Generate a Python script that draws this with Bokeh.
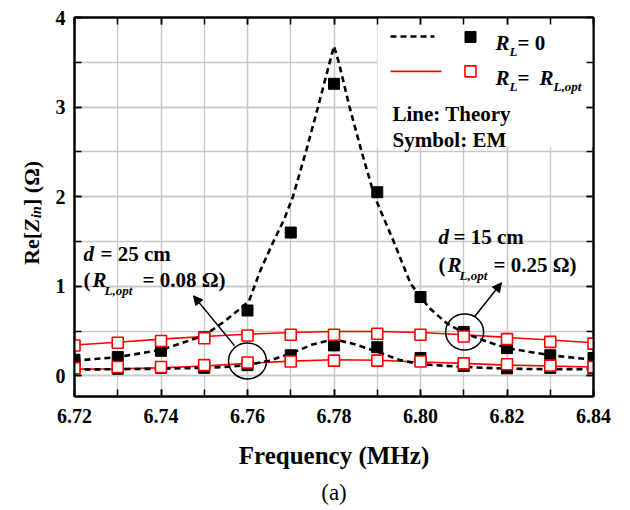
import math
from bokeh.plotting import figure
from bokeh.layouts import row
from bokeh.models import Range1d, Label, Arrow, NormalHead, LinearAxis, FixedTicker, Title
from bokeh.embed import file_html
from bokeh.resources import INLINE

# ---------------- data ----------------
freq_em = [6.72, 6.73, 6.74, 6.75, 6.76, 6.77, 6.78, 6.79, 6.80, 6.81, 6.82, 6.83, 6.84]
em_rl0_d15 = [0.18, 0.21, 0.28, 0.43, 0.73, 1.60, 3.26, 2.05, 0.88, 0.49, 0.31, 0.23, 0.20]
em_rl0_d25 = [0.09, 0.08, 0.09, 0.09, 0.12, 0.23, 0.34, 0.32, 0.20, 0.11, 0.085, 0.09, 0.085]
em_opt_d15 = [0.34, 0.37, 0.39, 0.42, 0.45, 0.46, 0.46, 0.47, 0.46, 0.44, 0.41, 0.38, 0.36]
em_opt_d25 = [0.085, 0.10, 0.10, 0.12, 0.15, 0.16, 0.17, 0.17, 0.16, 0.14, 0.13, 0.115, 0.10]

th15_freq = [6.72, 6.73, 6.74, 6.75, 6.755, 6.7603, 6.763, 6.766, 6.7685, 6.7705, 6.7735, 6.7763,
             6.779, 6.78, 6.7811, 6.7836, 6.7864, 6.7894, 6.7938, 6.7977, 6.802, 6.806, 6.81,
             6.8155, 6.82, 6.83, 6.84]
th15_rl0 = [0.17, 0.21, 0.29, 0.45, 0.62, 0.83, 1.18, 1.50, 1.75, 2.00, 2.50, 3.00,
            3.50, 3.68, 3.50, 3.00, 2.50, 2.00, 1.50, 1.03, 0.76, 0.59, 0.48,
            0.38, 0.31, 0.23, 0.18]
th25_freq = [6.72, 6.73, 6.74, 6.75, 6.755, 6.76, 6.765, 6.77, 6.775, 6.78, 6.785, 6.79, 6.795,
             6.80, 6.81, 6.82, 6.83, 6.84]
th25_rl0 = [0.07, 0.075, 0.08, 0.09, 0.10, 0.12, 0.17, 0.25, 0.35, 0.41, 0.35, 0.27, 0.18,
            0.13, 0.10, 0.08, 0.075, 0.075]
th_opt_d15 = [0.345, 0.375, 0.41, 0.44, 0.465, 0.485, 0.495, 0.495, 0.485, 0.46, 0.43, 0.40, 0.37]
th_opt_d25 = [0.075, 0.08, 0.09, 0.11, 0.14, 0.165, 0.18, 0.175, 0.155, 0.14, 0.12, 0.11, 0.10]

x_ticks = [6.72, 6.74, 6.76, 6.78, 6.80, 6.82, 6.84]
x_minor = [6.72, 6.73, 6.74, 6.75, 6.76, 6.77, 6.78, 6.79, 6.80, 6.81, 6.82, 6.83, 6.84]
y_ticks = [0, 1, 2, 3, 4]
y_minor = [0, 0.5, 1, 1.5, 2, 2.5, 3, 3.5, 4]

# annotation circles (centre freq, centre value)
circ_f = [6.76, 6.8102]
circ_v = [0.167, 0.49]

# ---------------- layout helpers ----------------
W, H = 630, 510
LW = 50                      # width of the strip that carries the y-axis title
X0, X1, Y0, Y1 = 6.72, 6.84, -0.23, 4.0
FL, FR, FT, FB = 74, 593, 17, 397   # frame edges in page pixels


def fx(px):
    return X0 + (px - FL) * (X1 - X0) / (FR - FL)


def fy(py):
    return Y1 - (py - FT) * (Y1 - Y0) / (FB - FT)


FONT = "Liberation Serif"

p = figure(width=W - LW, height=H, output_backend="svg", toolbar_location=None,
           x_range=Range1d(X0, X1), y_range=Range1d(Y0, Y1),
           min_border_left=FL - LW, min_border_right=W - FR,
           min_border_top=FT, min_border_bottom=H - FB)
p.background_fill_color = "white"
p.border_fill_color = "white"
p.outline_line_color = "black"
p.outline_line_width = 2


def style_axis(ax):
    ax.axis_line_width = 2
    ax.axis_line_color = "black"
    ax.major_tick_in = 7
    ax.major_tick_out = 0
    ax.minor_tick_in = 7
    ax.minor_tick_out = 0
    ax.major_tick_line_width = 1.5
    ax.minor_tick_line_width = 1.5
    ax.major_label_text_font = FONT
    ax.major_label_text_font_style = "bold"
    ax.major_label_text_font_size = "20px"
    ax.major_label_text_color = "black"


style_axis(p.xaxis[0])
style_axis(p.yaxis[0])
p.xaxis.ticker = FixedTicker(ticks=x_ticks, minor_ticks=x_minor)
p.yaxis.ticker = FixedTicker(ticks=y_ticks, minor_ticks=y_minor)
p.xaxis.major_label_overrides = {t: f"{t:.2f}" for t in x_ticks}
p.xaxis.major_label_standoff = 12
p.yaxis.major_label_standoff = 9

p.xaxis.axis_label = "Frequency (MHz)"
p.xaxis.axis_label_text_font = FONT
p.xaxis.axis_label_text_font_style = "bold"
p.xaxis.axis_label_text_font_size = "25px"
p.xaxis.axis_label_text_color = "black"
p.xaxis.axis_label_standoff = 16

# mirrored axes (ticks only)
top_ax = LinearAxis(ticker=FixedTicker(ticks=x_ticks, minor_ticks=x_minor))
right_ax = LinearAxis(ticker=FixedTicker(ticks=y_ticks, minor_ticks=y_minor))
for ax in (top_ax, right_ax):
    style_axis(ax)
    ax.major_label_standoff = 0
top_ax.major_label_overrides = {t: "" for t in x_ticks}
right_ax.major_label_overrides = {t: "" for t in y_ticks}
p.add_layout(top_ax, "above")
p.add_layout(right_ax, "right")

# "(a)" caption
p.add_layout(Title(text="(a)", align="center", text_font=FONT, text_font_size="23px",
                   text_font_style="normal", text_color="black", standoff=12), "below")

# grids
p.xgrid.ticker = p.xaxis[0].ticker
p.ygrid.ticker = p.yaxis[0].ticker
for g in (p.xgrid, p.ygrid):
    g.grid_line_color = "#c8c8c8"
    g.grid_line_width = 1.3
    g.minor_grid_line_color = "#c8c8c8"
    g.minor_grid_line_width = 1.3

# legend background
p.quad(left=fx(377), right=X1, bottom=fy(147), top=Y1, fill_color="white", line_color=None)

# theory lines
p.line(freq_em, th_opt_d15, line_color="red", line_width=1.6)
p.line(freq_em, th_opt_d25, line_color="red", line_width=1.6)
p.line(th15_freq, th15_rl0, line_color="black", line_width=2.6, line_dash="6 4")
p.line(th25_freq, th25_rl0, line_color="black", line_width=2.6, line_dash="6 4")

# EM symbols
p.scatter(freq_em, em_rl0_d15, marker="square", size=11, fill_color="black", line_color="black")
p.scatter(freq_em, em_rl0_d25, marker="square", size=11, fill_color="black", line_color="black")
p.scatter(freq_em, em_opt_d15, marker="square", size=11, fill_color="white", line_color="red", line_width=1.6)
p.scatter(freq_em, em_opt_d25, marker="square", size=11, fill_color="white", line_color="red", line_width=1.6)

# annotation circles and arrows
p.ellipse(x=circ_f, y=circ_v, width=38, height=36, width_units="screen", height_units="screen",
          fill_color=None, line_color="black", line_width=1.5)
p.add_layout(Arrow(end=NormalHead(size=9, fill_color="black", line_color="black"),
                   x_start=fx(234), y_start=fy(346), x_end=fx(193), y_end=fy(296),
                   line_width=1.5, line_color="black"))
p.add_layout(Arrow(end=NormalHead(size=9, fill_color="black", line_color="black"),
                   x_start=fx(474), y_start=fy(317), x_end=fx(501), y_end=fy(283),
                   line_width=1.5, line_color="black"))

# legend keys
p.line([fx(390), fx(434)], [fy(36), fy(36)], line_color="black", line_width=2.6, line_dash="6 4")
p.scatter([fx(470)], [fy(36.5)], marker="square", size=11, fill_color="black", line_color="black")
p.line([fx(390), fx(441)], [fy(71), fy(71)], line_color="red", line_width=1.6)
p.scatter([fx(470)], [fy(71)], marker="square", size=11, fill_color="white", line_color="red", line_width=1.6)


def lab(fig, x, y, text, size=21, style="bold", angle=0.0, align="left"):
    fig.add_layout(Label(x=x, y=y, text=text, text_font=FONT, text_font_size=f"{size}px",
                         text_font_style=style, text_align=align, text_baseline="alphabetic",
                         angle=angle, text_color="black"))


def plab(px, py, text, size=21, style="bold"):
    lab(p, fx(px), fy(py), text, size, style)


# legend texts
plab(495, 43, "R", 21, "bold italic")
plab(509, 51, "L", 13, "bold italic")
plab(517, 43, "= 0", 21)
plab(495, 78, "R", 21, "bold italic")
plab(509, 86, "L", 13, "bold italic")
plab(517, 78, "=", 21)
plab(539, 78, "R", 21, "bold italic")
plab(553, 86, "L,opt", 13, "bold italic")
plab(392, 114, "Line: Theory", 21)
plab(392, 140, "Symbol: EM", 21)

# annotation texts
plab(83, 254, "d", 21, "bold italic")
plab(100, 254, "= 25 cm", 21)
plab(83, 280, "(", 21)
plab(92, 280, "R", 21, "bold italic")
plab(104, 291, "L,opt", 13, "bold italic")
plab(142, 280, "= 0.08 \u03a9)", 21)

plab(438, 237, "d", 21, "bold italic")
plab(453, 237, "= 15 cm", 21)
plab(438, 265, "(", 21)
plab(447, 265, "R", 21, "bold italic")
plab(459, 276, "L,opt", 13, "bold italic")
plab(493, 265, "= 0.25 \u03a9)", 21)

# ---------------- y-axis title strip ----------------
# its frame is aligned with the main frame by the row layout, so map its
# y range to the same pixel span (page y measured from the top)
ylab = figure(width=LW, height=H, output_backend="svg", toolbar_location=None,
              x_range=Range1d(0, LW), y_range=Range1d(H - FB, H - FT),
              x_axis_type=None, y_axis_type=None,
              min_border=0, min_border_left=0, min_border_right=0,
              min_border_top=FT, min_border_bottom=H - FB)
ylab.outline_line_color = None
ylab.background_fill_color = "white"
ylab.border_fill_color = "white"
ylab.xgrid.visible = False
ylab.ygrid.visible = False

ang = math.pi / 2
lab(ylab, 31, H - 265, "Re[", 22, "bold", angle=ang)
lab(ylab, 31, H - 232, "Z", 22, "bold italic", angle=ang)
lab(ylab, 36, H - 218, "in", 14, "bold italic", angle=ang)
lab(ylab, 31, H - 206, "] (\u03a9)", 22, "bold", angle=ang)

layout = row(ylab, p, spacing=0)
open("out.html", "w").write(file_html(layout, INLINE))
